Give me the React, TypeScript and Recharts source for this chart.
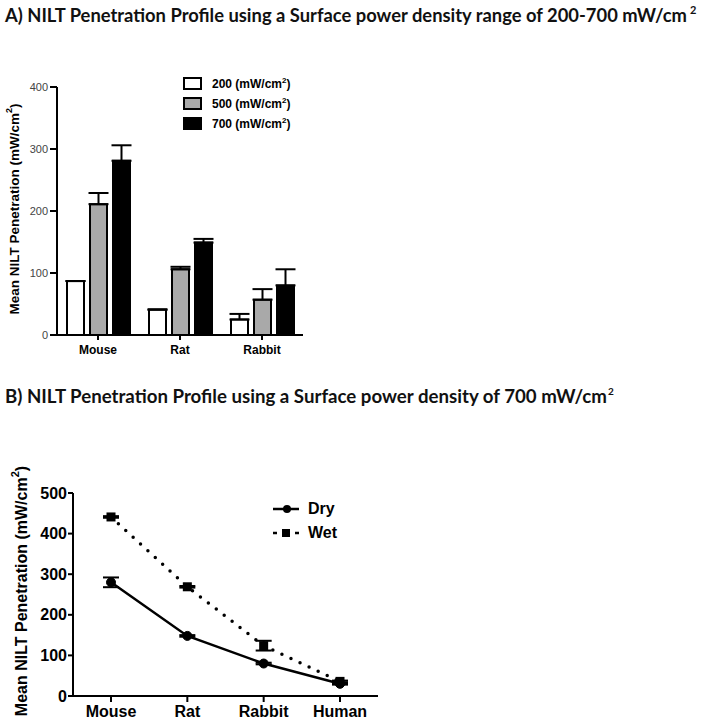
import React from 'react';
import { BarChart, Bar, LineChart, Line, XAxis, YAxis, ErrorBar, Legend } from 'recharts';

// Panel A: penetration by species at three surface power densities
const speciesA = ['Mouse', 'Rat', 'Rabbit'];
const mean200 = [87, 41, 25];
const err200 = [0, 0, 9];
const mean500 = [211, 106, 57];
const err500 = [18, 4, 17];
const mean700 = [281, 149, 80];
const err700 = [25, 6, 26];
const ticksA = [0, 100, 200, 300, 400];

// Panel B: dry vs wet at 700 mW/cm2
const speciesB = ['Mouse', 'Rat', 'Rabbit', 'Human'];
const dryMean = [280, 148, 80, 30];
const dryErr = [12, 2, 2, 2];
const wetMean = [441, 269, 124, 36];
const wetErr = [2, 2, 12, 2];
const ticksB = [0, 100, 200, 300, 400, 500];

const dataA = speciesA.map((s, i) => ({
  species: s,
  d200: mean200[i],
  e200: err200[i],
  d500: mean500[i],
  e500: err500[i],
  d700: mean700[i],
  e700: err700[i],
}));

const dataB = speciesB.map((s, i) => ({
  species: s,
  dry: dryMean[i],
  dryErr: dryErr[i],
  wet: wetMean[i],
  wetErr: wetErr[i],
}));

const ARIAL = '"Liberation Sans", Arial, sans-serif';
const TITLE_FONT = 'Lato, "Open Sans", sans-serif';

const BarLegend = (props: any) => {
  const { payload } = props;
  return (
    <div>
      {(payload || []).map((entry: any) => (
        <div key={entry.value} style={{ display: 'flex', alignItems: 'center', height: 20 }}>
          <span
            style={{
              display: 'inline-block',
              width: 15,
              height: 9,
              background: entry.color,
              border: '2px solid #000',
              marginRight: 10,
            }}
          />
          <span style={{ fontFamily: ARIAL, fontWeight: 700, fontSize: 12, color: '#000' }}>
            {entry.value} (mW/cm<sup style={{ fontSize: 8 }}>2</sup>)
          </span>
        </div>
      ))}
    </div>
  );
};

const LineLegend = () => (
  <div>
    <div style={{ display: 'flex', alignItems: 'center', height: 24 }}>
      <svg width={36} height={14}>
        <line x1={1} y1={7} x2={27} y2={7} stroke="#000" strokeWidth={2.5} />
        <circle cx={15} cy={7} r={4} fill="#000" />
      </svg>
      <span style={{ fontFamily: ARIAL, fontWeight: 700, fontSize: 16 }}>Dry</span>
    </div>
    <div style={{ display: 'flex', alignItems: 'center', height: 24 }}>
      <svg width={36} height={14}>
        <line x1={1} y1={7} x2={5} y2={7} stroke="#000" strokeWidth={2.5} />
        <rect x={10} y={3} width={8} height={8} fill="#000" />
        <line x1={23} y1={7} x2={27} y2={7} stroke="#000" strokeWidth={2.5} />
      </svg>
      <span style={{ fontFamily: ARIAL, fontWeight: 700, fontSize: 16 }}>Wet</span>
    </div>
  </div>
);

const SquareDot = (props: any) => {
  const { cx, cy, index } = props;
  if (cx == null || cy == null) return <g key={`sq-${index}`} />;
  return <rect key={`sq-${index}`} x={cx - 4.5} y={cy - 4.5} width={9} height={9} fill="#000" />;
};

const App: React.FC = () => {
  return (
    <div
      style={{
        position: 'absolute',
        left: 0,
        top: 0,
        width: 702,
        height: 722,
        background: '#fff',
        overflow: 'hidden',
      }}
    >
      <div style={{ position: 'absolute', left: 0, top: 0 }}>
        <BarChart
          width={310}
          height={370}
          data={dataA}
          margin={{ top: 87, right: 7, bottom: 5, left: 0 }}
          barCategoryGap={10}
          barGap={6}
        >
          <XAxis
            dataKey="species"
            axisLine={{ stroke: '#000', strokeWidth: 2 }}
            tickLine={{ stroke: '#000', strokeWidth: 2 }}
            tickSize={5}
            tickMargin={5}
            height={30}
            tick={{ fill: '#000', fontSize: 12, fontWeight: 700, fontFamily: ARIAL }}
          />
          <YAxis
            domain={[0, 400]}
            ticks={ticksA}
            width={57}
            axisLine={{ stroke: '#000', strokeWidth: 2 }}
            tickLine={{ stroke: '#000', strokeWidth: 2 }}
            tickSize={7}
            tickMargin={2}
            tick={{ fill: '#444', fontSize: 11, fontFamily: ARIAL }}
          />
          <Legend
            layout="vertical"
            align="center"
            verticalAlign="middle"
            content={<BarLegend />}
            wrapperStyle={{ position: 'absolute', left: 183, top: 73, width: 130 }}
          />
          <Bar dataKey="d200" name="200" fill="#ffffff" stroke="#000" strokeWidth={2} isAnimationActive={false}>
            <ErrorBar dataKey={(d: any) => [0, d.e200]} width={10} stroke="#000" strokeWidth={2} />
          </Bar>
          <Bar dataKey="d500" name="500" fill="#a9a9a9" stroke="#000" strokeWidth={2} isAnimationActive={false}>
            <ErrorBar dataKey={(d: any) => [0, d.e500]} width={10} stroke="#000" strokeWidth={2} />
          </Bar>
          <Bar dataKey="d700" name="700" fill="#000000" stroke="#000" strokeWidth={2} isAnimationActive={false}>
            <ErrorBar dataKey={(d: any) => [0, d.e700]} width={10} stroke="#000" strokeWidth={2} />
          </Bar>
        </BarChart>
      </div>

      <div style={{ position: 'absolute', left: 0, top: 440 }}>
        <LineChart
          width={390}
          height={282}
          data={dataB}
          margin={{ top: 53, right: 12, bottom: 0, left: 0 }}
        >
          <XAxis
            dataKey="species"
            padding={{ left: 38, right: 38 }}
            axisLine={{ stroke: '#000', strokeWidth: 2 }}
            tickLine={{ stroke: '#000', strokeWidth: 2 }}
            tickSize={6}
            tickMargin={4}
            height={26}
            interval={0}
            tick={{ fill: '#000', fontSize: 16, fontWeight: 700, fontFamily: ARIAL }}
          />
          <YAxis
            domain={[0, 500]}
            ticks={ticksB}
            width={73}
            axisLine={{ stroke: '#000', strokeWidth: 2 }}
            tickLine={{ stroke: '#000', strokeWidth: 2 }}
            tickSize={5}
            tickMargin={1}
            tick={{ fill: '#000', fontSize: 16, fontWeight: 700, fontFamily: ARIAL }}
          />
          <Legend
            layout="vertical"
            align="center"
            verticalAlign="middle"
            content={<LineLegend />}
            wrapperStyle={{ position: 'absolute', left: 272, top: 57, width: 100 }}
          />
          <Line
            dataKey="wet"
            name="Wet"
            stroke="#000"
            strokeWidth={3.5}
            strokeDasharray="0 10"
            strokeLinecap="round"
            dot={SquareDot}
            activeDot={false}
            isAnimationActive={false}
          >
            <ErrorBar dataKey="wetErr" width={8} stroke="#000" strokeWidth={2} />
          </Line>
          <Line
            dataKey="dry"
            name="Dry"
            stroke="#000"
            strokeWidth={2.5}
            dot={{ r: 4.5, fill: '#000', stroke: '#000', strokeWidth: 1 }}
            activeDot={false}
            isAnimationActive={false}
          >
            <ErrorBar dataKey="dryErr" width={8} stroke="#000" strokeWidth={2} />
          </Line>
        </LineChart>
      </div>

      <svg
        width={702}
        height={722}
        style={{ position: 'absolute', left: 0, top: 0, pointerEvents: 'none' }}
      >
        <text
          x={5}
          y={22}
          textLength={682}
          lengthAdjust="spacingAndGlyphs"
          fontFamily={TITLE_FONT}
          fontWeight={700}
          fontSize={18}
          fill="#111"
        >
          A) NILT Penetration Profile using a Surface power density range of 200-700 mW/cm
        </text>
        <text x={690} y={14} fontFamily={TITLE_FONT} fontWeight={700} fontSize={11} fill="#111">
          2
        </text>
        <text
          x={5}
          y={403}
          textLength={602}
          lengthAdjust="spacingAndGlyphs"
          fontFamily={TITLE_FONT}
          fontWeight={700}
          fontSize={18}
          fill="#111"
        >
          B) NILT Penetration Profile using a Surface power density of 700 mW/cm
        </text>
        <text x={608} y={395} fontFamily={TITLE_FONT} fontWeight={700} fontSize={10} fill="#111">
          2
        </text>
        <text
          x={0}
          y={0}
          transform="translate(14 209) rotate(-90)"
          textAnchor="middle"
          dominantBaseline="central"
          fontFamily={ARIAL}
          fontWeight={700}
          fontSize={13.5}
          fill="#000"
        >
          Mean NILT Penetration (mW/cm<tspan fontSize={9} dy={-5}>2</tspan>
          <tspan dy={5}>)</tspan>
        </text>
        <text
          x={0}
          y={0}
          transform="translate(21 591) rotate(-90)"
          textAnchor="middle"
          dominantBaseline="central"
          fontFamily={ARIAL}
          fontWeight={700}
          fontSize={16}
          fill="#000"
        >
          Mean NILT Penetration (mW/cm<tspan fontSize={11} dy={-6}>2</tspan>
          <tspan dy={6}>)</tspan>
        </text>
      </svg>
    </div>
  );
};

export default App;
